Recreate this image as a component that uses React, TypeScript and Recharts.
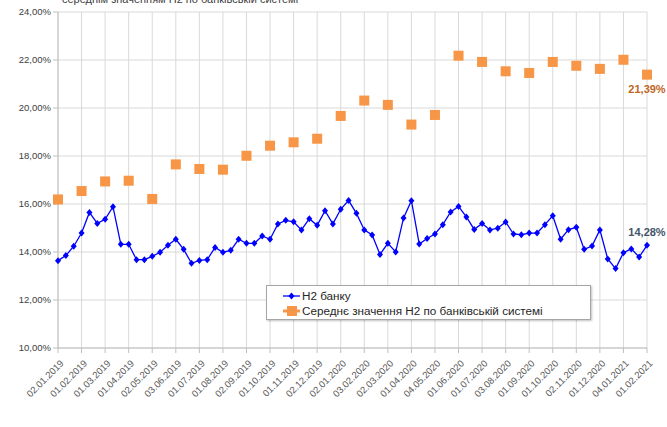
import { LineChart, Line, XAxis, YAxis, CartesianGrid } from "recharts";

// monthly tick dates (every 3rd observation)
const dateLabels = [
  "02.01.2019", "01.02.2019", "01.03.2019", "01.04.2019", "02.05.2019", "03.06.2019",
  "01.07.2019", "01.08.2019", "02.09.2019", "01.10.2019", "01.11.2019", "02.12.2019",
  "02.01.2020", "03.02.2020", "02.03.2020", "01.04.2020", "04.05.2020", "01.06.2020",
  "01.07.2020", "03.08.2020", "01.09.2020", "01.10.2020", "02.11.2020", "01.12.2020",
  "04.01.2021", "01.02.2021",
];

// Н2 банку, three readings per month
const bankH2 = [
  13.64, 13.85, 14.24, 14.79, 15.65, 15.19, 15.36, 15.89, 14.32, 14.32,
  13.68, 13.68, 13.82, 13.99, 14.28, 14.53, 14.11, 13.53, 13.65, 13.68,
  14.19, 13.99, 14.07, 14.53, 14.36, 14.36, 14.67, 14.53, 15.17, 15.32,
  15.26, 14.92, 15.39, 15.11, 15.72, 15.17, 15.78, 16.15, 15.61, 14.92,
  14.71, 13.9, 14.36, 14.0, 15.42, 16.14, 14.33, 14.56, 14.75, 15.14,
  15.67, 15.9, 15.46, 14.94, 15.19, 14.92, 14.99, 15.25, 14.75, 14.72,
  14.79, 14.79, 15.14, 15.51, 14.53, 14.93, 15.03, 14.11, 14.25, 14.92,
  13.71, 13.31, 13.97, 14.13, 13.79, 14.28,
];

// середнє по банківській системі, monthly
const systemH2 = [
  16.19, 16.54, 16.94, 16.97, 16.21, 17.65, 17.46, 17.43, 18.01, 18.43,
  18.57, 18.72, 19.67, 20.31, 20.13, 19.31, 19.71, 22.18, 21.92, 21.53,
  21.46, 21.92, 21.76, 21.63, 22.01, 21.39,
];

const yTicks = [10, 12, 14, 16, 18, 20, 22, 24];

const data = bankH2.map((v, i) => ({
  i,
  bank: v,
  system: i % 3 === 0 ? systemH2[i / 3] : null,
}));
const xTicks = dateLabels.map((_, k) => k * 3);
const lastIdx = data.length - 1;

const pct = (v: number) => v.toFixed(2).replace(".", ",") + "%";

const BLUE = "#0000ff";
const ORANGE = "#f79646";

const Diamond = (p: any) => {
  const { cx, cy } = p;
  if (cx == null || cy == null || p.value == null) return <g key={p.key} />;
  return (
    <path
      key={p.key}
      d={`M${cx},${cy - 3.5}L${cx + 3},${cy}L${cx},${cy + 3.5}L${cx - 3},${cy}Z`}
      fill={BLUE}
    />
  );
};

const Square = (p: any) => {
  const { cx, cy } = p;
  if (cx == null || cy == null || p.value == null) return <g key={p.key} />;
  return <rect key={p.key} x={cx - 5} y={cy - 5} width={10} height={10} fill={ORANGE} />;
};

const XTick = (p: any) => {
  const { x, y, payload } = p;
  return (
    <g transform={`translate(${x + 4},${y + 7})`}>
      <text transform="rotate(-45)" textAnchor="end" dy={3} fontSize={9.5} fill="#595959">
        {dateLabels[payload.value / 3]}
      </text>
    </g>
  );
};

const LegendBox = () => (
  <div
    style={{
      position: "absolute",
      left: 266,
      top: 285,
      width: 325,
      height: 35,
      border: "1px solid #a6a6a6",
      background: "#fff",
      boxShadow: "1px 1px 2px rgba(0,0,0,0.25)",
      fontSize: 11.7,
      color: "#262626",
      padding: "2px 0 0 16px",
      boxSizing: "border-box",
      lineHeight: "15px",
    }}
  >
    <div style={{ display: "flex", alignItems: "center" }}>
      <svg width={18} height={10}>
        <line x1={0} y1={5} x2={17} y2={5} stroke={BLUE} strokeWidth={1.3} />
        <path d="M8.5,1.5L11.5,5L8.5,8.5L5.5,5Z" fill={BLUE} />
      </svg>
      <span style={{ marginLeft: 1 }}>Н2 банку</span>
    </div>
    <div style={{ display: "flex", alignItems: "center" }}>
      <svg width={18} height={12}>
        <line x1={0} y1={6} x2={17} y2={6} stroke={ORANGE} strokeWidth={3} />
        <rect x={4} y={1} width={10} height={10} fill={ORANGE} />
      </svg>
      <span style={{ marginLeft: 1 }}>Середнє значення Н2 по банківській системі</span>
    </div>
  </div>
);

export default function App() {
  return (
    <div
      style={{
        position: "absolute",
        left: 0,
        top: 0,
        width: 667,
        height: 427,
        background: "#fff",
        overflow: "hidden",
        fontFamily: "'Liberation Sans', Arial, sans-serif",
      }}
    >
      <div
        style={{
          position: "absolute",
          left: 62,
          top: -7,
          fontSize: 11,
          color: "#404040",
          whiteSpace: "nowrap",
        }}
      >
        середнім значенням Н2 по банківській системі
      </div>
      <LineChart width={667} height={427} data={data} margin={{ top: 12, right: 20, left: 0, bottom: 9 }}>
        <CartesianGrid stroke="#d9d9d9" strokeWidth={1} />
        <XAxis
          dataKey="i"
          type="number"
          domain={[0, lastIdx]}
          ticks={xTicks}
          interval={0}
          tick={<XTick />}
          height={70}
          stroke="#bfbfbf"
          tickSize={5}
        />
        <YAxis
          domain={[10, 24]}
          ticks={yTicks}
          tickFormatter={pct}
          width={58}
          stroke="#bfbfbf"
          tickSize={5}
          tick={{ fontSize: 9.5, fill: "#404040" }}
        />
        <Line
          dataKey="bank"
          stroke={BLUE}
          strokeWidth={1.3}
          dot={Diamond}
          activeDot={false}
          isAnimationActive={false}
          label={(p: any) =>
            p.index === lastIdx ? (
              <text key="lb" x={p.x} y={p.y - 9} textAnchor="middle" fontSize={11} fontWeight="bold" fill="#44546a">
                {pct(p.value)}
              </text>
            ) : (
              <g key={`lb${p.index}`} />
            )
          }
        />
        <Line
          dataKey="system"
          stroke="none"
          dot={Square}
          activeDot={false}
          isAnimationActive={false}
          label={(p: any) =>
            p.index === lastIdx ? (
              <text key="ls" x={p.x} y={p.y + 18} textAnchor="middle" fontSize={11} fontWeight="bold" fill="#c0661d">
                {pct(p.value)}
              </text>
            ) : (
              <g key={`ls${p.index}`} />
            )
          }
        />
      </LineChart>
      <LegendBox />
    </div>
  );
}
